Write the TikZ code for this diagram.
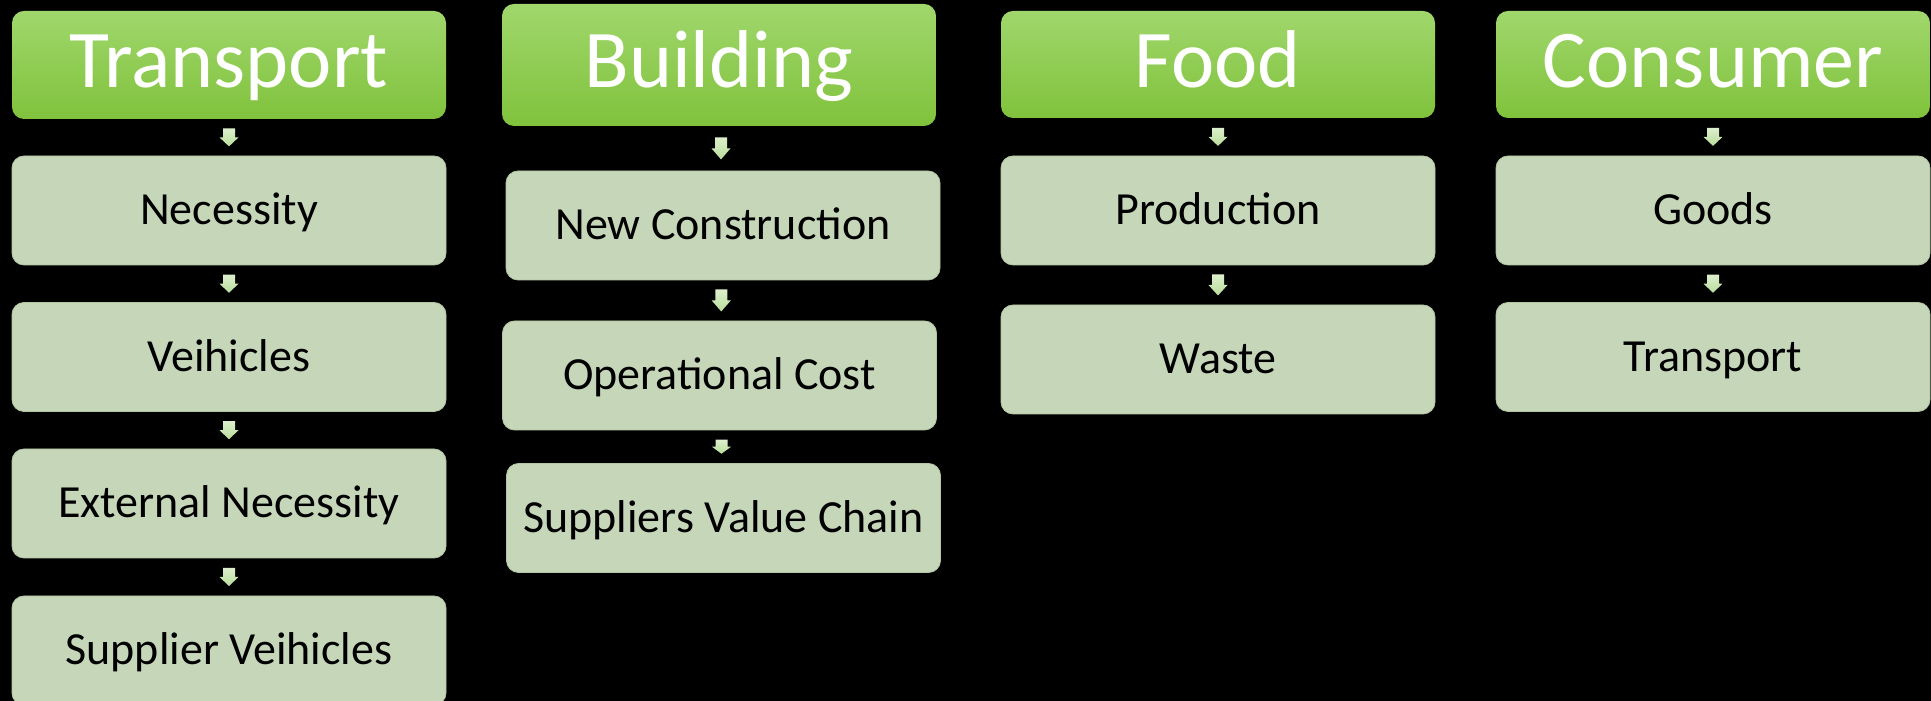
\documentclass[tikz,border=0pt]{standalone}
\usepackage{fontspec}
\setmainfont{Carlito}
\usetikzlibrary{calc}
\definecolor{hdtop}{HTML}{A0D76C}
\definecolor{hdmid}{HTML}{93D54E}
\definecolor{hdbot}{HTML}{80C23C}
\definecolor{boxfill}{HTML}{C5D6B9}
\definecolor{boxline}{HTML}{B2C6A4}
\definecolor{arrtop}{HTML}{DCEFCC}
\definecolor{arrbot}{HTML}{B9DE9C}
\tikzset{
  header/.style={rounded corners=12pt, top color=hdtop, middle color=hdmid, bottom color=hdbot,
    text=white, minimum width=434pt, minimum height=108pt, inner sep=0pt,
    font=\fontsize{82}{90}\selectfont, text height=52pt, text depth=6pt},
  item/.style={rounded corners=12pt, fill=boxfill, draw=boxline, line width=0.8pt,
    text=black, minimum width=434pt, minimum height=109pt, inner sep=0pt,
    font=\fontsize{46}{52}\selectfont, text height=29pt, text depth=0pt},
  pics/darr/.style={code={
    \shade[top color=arrtop, bottom color=arrbot]
      (-6,#1/2) -- (6,#1/2) -- (6,-#1/2+0.5*#1) -- (9.5,-#1/2+0.5*#1) -- (0,-#1/2)
      -- (-9.5,-#1/2+0.5*#1) -- (-6,-#1/2+0.5*#1) -- cycle;
  }}
}
\begin{document}
\begin{tikzpicture}[x=1pt,y=1pt]
\useasboundingbox (0,0) rectangle (1931,701);
\clip (0,0) rectangle (1931,701);
\fill[black] (0,0) rectangle (1931,701);
% Transport column
\node[header] (t0) at (229,636) {Transport};
\node[item] (t1) at (229,490.5) {Necessity};
\node[item] (t2) at (229,344) {Veihicles};
\node[item] (t3) at (229,197.5) {External Necessity};
\node[item] (t4) at (229,50.5) {Supplier Veihicles};
% Building column
\node[header, minimum height=122pt] (b0) at (719,636) {Building};
\node[item] (b1) at (723,475.5) {New Construction};
\node[item] (b2) at (719.5,325.5) {Operational Cost};
\node[item] (b3) at (723.5,183) {Suppliers Value Chain};
% Food column
\node[header, minimum height=107pt] (f0) at (1218,636.5) {Food};
\node[item] (f1) at (1218,490.5) {Production};
\node[item] (f2) at (1218,341.5) {Waste};
% Consumer column
\node[header, minimum height=107pt] (c0) at (1713,636.5) {Consumer};
\node[item] (c1) at (1713,490.5) {Goods};
\node[item] (c2) at (1713,344) {Transport};
% arrows
\path ($(t0.south)!0.5!(t1.north)$) pic{darr=18};
\path ($(t1.south)!0.5!(t2.north)$) pic{darr=18};
\path ($(t2.south)!0.5!(t3.north)$) pic{darr=18};
\path ($(t3.south)!0.5!(t4.north)$) pic{darr=18};
\path ($(b0.south)!0.5!(b1.north)$) pic{darr=22};
\path ($(b1.south)!0.5!(b2.north)$) pic{darr=22};
\path ($(b2.south)!0.5!(b3.north)$) pic{darr=14};
\path ($(f0.south)!0.5!(f1.north)$) pic{darr=18};
\path ($(f1.south)!0.5!(f2.north)$) pic{darr=21};
\path ($(c0.south)!0.5!(c1.north)$) pic{darr=18};
\path ($(c1.south)!0.5!(c2.north)$) pic{darr=18};
\end{tikzpicture}
\end{document}
